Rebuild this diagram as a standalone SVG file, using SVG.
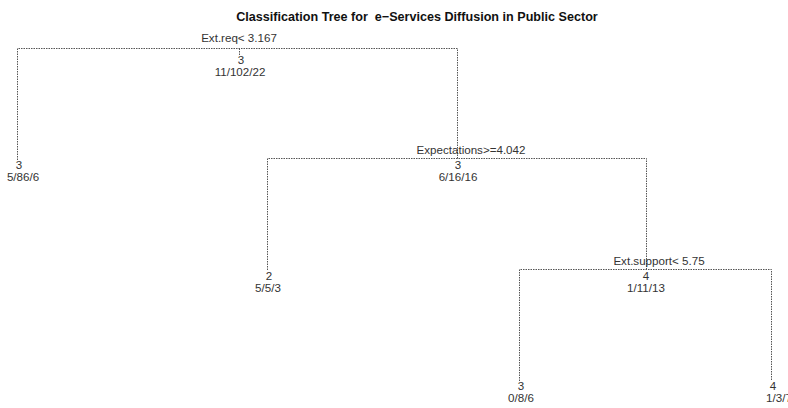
<svg xmlns="http://www.w3.org/2000/svg" width="788" height="408" viewBox="0 0 788 408">
<style>
.t{font-family:"Liberation Sans",Arial,sans-serif;font-size:11.6px;fill:#333;text-anchor:middle}
.title{font-family:"Liberation Sans",Arial,sans-serif;font-size:12.6px;font-weight:bold;fill:#111;text-anchor:middle;white-space:pre}
.e{fill:none;stroke:#555;stroke-width:1;stroke-dasharray:1.5,1}
</style>
<rect width="788" height="408" fill="#fff"/>
<text class="title" x="417" y="21" xml:space="preserve">Classification Tree for  e−Services Diffusion in Public Sector</text>
<g id="connectors">
<path class="e" d="M17.5,160 V48.5 H457.5 V158.5"/>
<path class="e" d="M239.5,48.5 V56"/>
<path class="e" d="M267.5,270 V158.5 H646.5 V269.5"/>
<path class="e" d="M519.5,381 V269.5 H771.5 V381"/>
</g>
<g id="n1">
<text class="t" x="239" y="42">Ext.req&lt; 3.167</text>
<text class="t" x="241" y="64">3</text>
<text class="t" x="240" y="76">11/102/22</text>
</g>
<g id="n2">
<text class="t" x="19" y="169">3</text>
<text class="t" x="23" y="181">5/86/6</text>
</g>
<g id="n3">
<text class="t" x="471" y="154">Expectations&gt;=4.042</text>
<text class="t" x="458" y="169">3</text>
<text class="t" x="458" y="181">6/16/16</text>
</g>
<g id="n4">
<text class="t" x="269" y="280">2</text>
<text class="t" x="268" y="292">5/5/3</text>
</g>
<g id="n5">
<text class="t" x="659" y="265">Ext.support&lt; 5.75</text>
<text class="t" x="646" y="280">4</text>
<text class="t" x="646" y="292">1/11/13</text>
</g>
<g id="n6">
<text class="t" x="521" y="390">3</text>
<text class="t" x="521" y="402">0/8/6</text>
</g>
<g id="n7">
<text class="t" x="773" y="390">4</text>
<text class="t" x="779" y="402">1/3/7</text>
</g>
</svg>
